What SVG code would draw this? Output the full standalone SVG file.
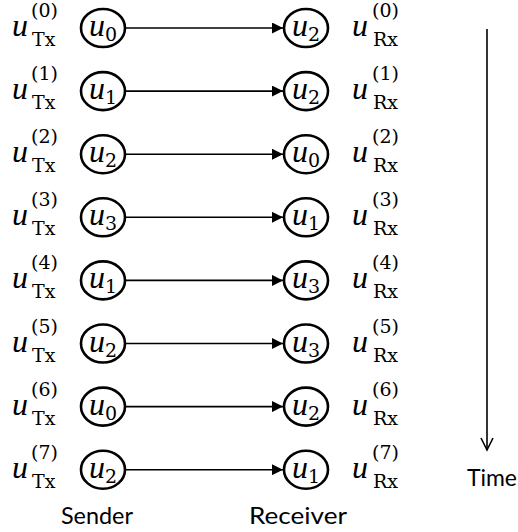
<svg xmlns="http://www.w3.org/2000/svg" width="518" height="532" viewBox="0 0 518 532">
<style>
.node ellipse{fill:#fff;stroke:#000;stroke-width:2.6}
.m{font-family:"Liberation Serif","DejaVu Serif",serif;fill:#000}
.mi{font-family:"Liberation Serif","DejaVu Serif",serif;font-style:italic;font-size:32px}
.sm{font-family:"DejaVu Serif","Liberation Serif",serif;font-size:19px;font-style:normal}
.lbl{font-family:"DejaVu Serif","Liberation Serif",serif;font-size:19px}
.cap{font-family:Lato,"Open Sans",sans-serif;font-size:24px;fill:#000}
.edge{stroke:#000;stroke-width:1.6;fill:none}
</style>
<defs>
<marker id="ah" viewBox="0 0 10 10" refX="10" refY="5" markerWidth="11" markerHeight="11" markerUnits="userSpaceOnUse" orient="auto">
<path d="M0,0 L10,5 L0,10 z" fill="#000"/>
</marker>
</defs>
<g id="connectors">
<line class="edge" x1="125" y1="28" x2="283" y2="28" marker-end="url(#ah)"/>
<line class="edge" x1="125" y1="91.1" x2="283" y2="91.1" marker-end="url(#ah)"/>
<line class="edge" x1="125" y1="154.2" x2="283" y2="154.2" marker-end="url(#ah)"/>
<line class="edge" x1="125" y1="217.3" x2="283" y2="217.3" marker-end="url(#ah)"/>
<line class="edge" x1="125" y1="280.4" x2="283" y2="280.4" marker-end="url(#ah)"/>
<line class="edge" x1="125" y1="343.5" x2="283" y2="343.5" marker-end="url(#ah)"/>
<line class="edge" x1="125" y1="406.6" x2="283" y2="406.6" marker-end="url(#ah)"/>
<line class="edge" x1="125" y1="469.7" x2="283" y2="469.7" marker-end="url(#ah)"/>
<line id="time-arrow" x1="487" y1="29" x2="487" y2="450" stroke="#000" stroke-width="1.6"/>
<path d="M481,438 L487,450 L493,438" fill="none" stroke="#000" stroke-width="1.6"/>
</g>
<g id="labels-tx" class="m">
<g id="tx0" transform="translate(0,28)"><text class="mi" x="12" y="8">u</text><text class="lbl" x="31" y="-11">(0)</text><text class="lbl" x="32" y="18">Tx</text></g>
<g id="tx1" transform="translate(0,91.1)"><text class="mi" x="12" y="8">u</text><text class="lbl" x="31" y="-11">(1)</text><text class="lbl" x="32" y="18">Tx</text></g>
<g id="tx2" transform="translate(0,154.2)"><text class="mi" x="12" y="8">u</text><text class="lbl" x="31" y="-11">(2)</text><text class="lbl" x="32" y="18">Tx</text></g>
<g id="tx3" transform="translate(0,217.3)"><text class="mi" x="12" y="8">u</text><text class="lbl" x="31" y="-11">(3)</text><text class="lbl" x="32" y="18">Tx</text></g>
<g id="tx4" transform="translate(0,280.4)"><text class="mi" x="12" y="8">u</text><text class="lbl" x="31" y="-11">(4)</text><text class="lbl" x="32" y="18">Tx</text></g>
<g id="tx5" transform="translate(0,343.5)"><text class="mi" x="12" y="8">u</text><text class="lbl" x="31" y="-11">(5)</text><text class="lbl" x="32" y="18">Tx</text></g>
<g id="tx6" transform="translate(0,406.6)"><text class="mi" x="12" y="8">u</text><text class="lbl" x="31" y="-11">(6)</text><text class="lbl" x="32" y="18">Tx</text></g>
<g id="tx7" transform="translate(0,469.7)"><text class="mi" x="12" y="8">u</text><text class="lbl" x="31" y="-11">(7)</text><text class="lbl" x="32" y="18">Tx</text></g>
</g>
<g id="labels-rx" class="m">
<g id="rx0" transform="translate(352,28)"><text class="mi" x="0" y="8">u</text><text class="lbl" x="20" y="-11">(0)</text><text class="lbl" x="21" y="18">Rx</text></g>
<g id="rx1" transform="translate(352,91.1)"><text class="mi" x="0" y="8">u</text><text class="lbl" x="20" y="-11">(1)</text><text class="lbl" x="21" y="18">Rx</text></g>
<g id="rx2" transform="translate(352,154.2)"><text class="mi" x="0" y="8">u</text><text class="lbl" x="20" y="-11">(2)</text><text class="lbl" x="21" y="18">Rx</text></g>
<g id="rx3" transform="translate(352,217.3)"><text class="mi" x="0" y="8">u</text><text class="lbl" x="20" y="-11">(3)</text><text class="lbl" x="21" y="18">Rx</text></g>
<g id="rx4" transform="translate(352,280.4)"><text class="mi" x="0" y="8">u</text><text class="lbl" x="20" y="-11">(4)</text><text class="lbl" x="21" y="18">Rx</text></g>
<g id="rx5" transform="translate(352,343.5)"><text class="mi" x="0" y="8">u</text><text class="lbl" x="20" y="-11">(5)</text><text class="lbl" x="21" y="18">Rx</text></g>
<g id="rx6" transform="translate(352,406.6)"><text class="mi" x="0" y="8">u</text><text class="lbl" x="20" y="-11">(6)</text><text class="lbl" x="21" y="18">Rx</text></g>
<g id="rx7" transform="translate(352,469.7)"><text class="mi" x="0" y="8">u</text><text class="lbl" x="20" y="-11">(7)</text><text class="lbl" x="21" y="18">Rx</text></g>
</g>
<g id="s0" class="node" transform="translate(103,28)"><ellipse rx="22" ry="19"/><text class="m" text-anchor="middle" y="8"><tspan class="mi">u</tspan><tspan class="sm" dy="5">0</tspan></text></g>
<g id="s1" class="node" transform="translate(103,91.1)"><ellipse rx="22" ry="19"/><text class="m" text-anchor="middle" y="8"><tspan class="mi">u</tspan><tspan class="sm" dy="5">1</tspan></text></g>
<g id="s2" class="node" transform="translate(103,154.2)"><ellipse rx="22" ry="19"/><text class="m" text-anchor="middle" y="8"><tspan class="mi">u</tspan><tspan class="sm" dy="5">2</tspan></text></g>
<g id="s3" class="node" transform="translate(103,217.3)"><ellipse rx="22" ry="19"/><text class="m" text-anchor="middle" y="8"><tspan class="mi">u</tspan><tspan class="sm" dy="5">3</tspan></text></g>
<g id="s4" class="node" transform="translate(103,280.4)"><ellipse rx="22" ry="19"/><text class="m" text-anchor="middle" y="8"><tspan class="mi">u</tspan><tspan class="sm" dy="5">1</tspan></text></g>
<g id="s5" class="node" transform="translate(103,343.5)"><ellipse rx="22" ry="19"/><text class="m" text-anchor="middle" y="8"><tspan class="mi">u</tspan><tspan class="sm" dy="5">2</tspan></text></g>
<g id="s6" class="node" transform="translate(103,406.6)"><ellipse rx="22" ry="19"/><text class="m" text-anchor="middle" y="8"><tspan class="mi">u</tspan><tspan class="sm" dy="5">0</tspan></text></g>
<g id="s7" class="node" transform="translate(103,469.7)"><ellipse rx="22" ry="19"/><text class="m" text-anchor="middle" y="8"><tspan class="mi">u</tspan><tspan class="sm" dy="5">2</tspan></text></g>
<g id="r0" class="node" transform="translate(306,28)"><ellipse rx="22" ry="19"/><text class="m" text-anchor="middle" y="8"><tspan class="mi">u</tspan><tspan class="sm" dy="5">2</tspan></text></g>
<g id="r1" class="node" transform="translate(306,91.1)"><ellipse rx="22" ry="19"/><text class="m" text-anchor="middle" y="8"><tspan class="mi">u</tspan><tspan class="sm" dy="5">2</tspan></text></g>
<g id="r2" class="node" transform="translate(306,154.2)"><ellipse rx="22" ry="19"/><text class="m" text-anchor="middle" y="8"><tspan class="mi">u</tspan><tspan class="sm" dy="5">0</tspan></text></g>
<g id="r3" class="node" transform="translate(306,217.3)"><ellipse rx="22" ry="19"/><text class="m" text-anchor="middle" y="8"><tspan class="mi">u</tspan><tspan class="sm" dy="5">1</tspan></text></g>
<g id="r4" class="node" transform="translate(306,280.4)"><ellipse rx="22" ry="19"/><text class="m" text-anchor="middle" y="8"><tspan class="mi">u</tspan><tspan class="sm" dy="5">3</tspan></text></g>
<g id="r5" class="node" transform="translate(306,343.5)"><ellipse rx="22" ry="19"/><text class="m" text-anchor="middle" y="8"><tspan class="mi">u</tspan><tspan class="sm" dy="5">3</tspan></text></g>
<g id="r6" class="node" transform="translate(306,406.6)"><ellipse rx="22" ry="19"/><text class="m" text-anchor="middle" y="8"><tspan class="mi">u</tspan><tspan class="sm" dy="5">2</tspan></text></g>
<g id="r7" class="node" transform="translate(306,469.7)"><ellipse rx="22" ry="19"/><text class="m" text-anchor="middle" y="8"><tspan class="mi">u</tspan><tspan class="sm" dy="5">1</tspan></text></g>
<g id="captions">
<text class="cap" x="97" y="524" text-anchor="middle" textLength="72" lengthAdjust="spacingAndGlyphs">Sender</text>
<text class="cap" x="298" y="524" text-anchor="middle" textLength="98" lengthAdjust="spacingAndGlyphs">Receiver</text>
<text class="cap" x="467" y="486" textLength="50" lengthAdjust="spacingAndGlyphs">Time</text>
</g>
</svg>
